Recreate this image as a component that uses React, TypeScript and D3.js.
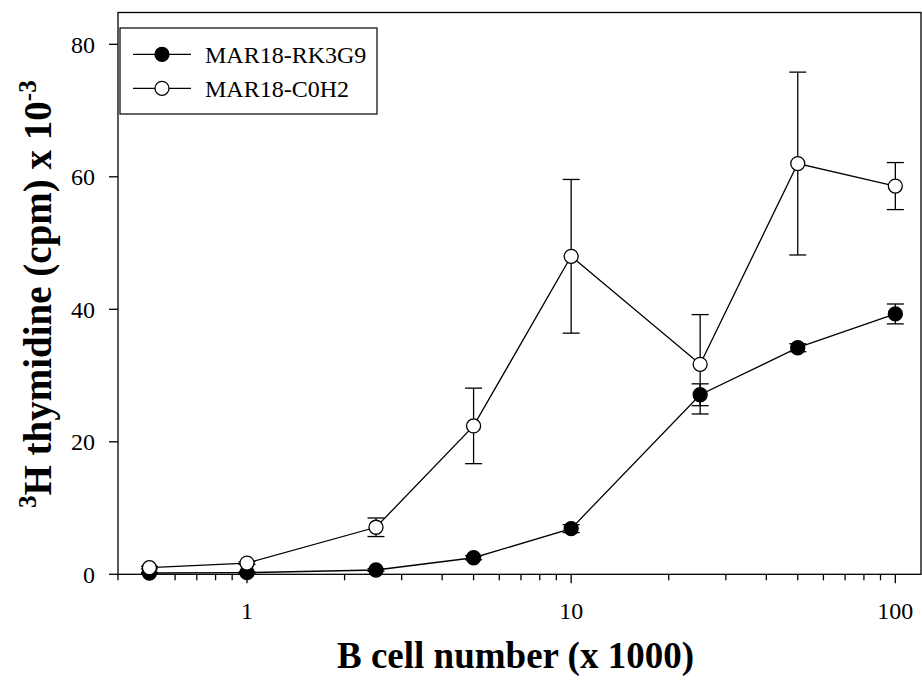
import React from "react";
import * as d3 from "d3";

const cellNumbers = [0.5, 1, 2.5, 5, 10, 25, 50, 100];
const rkMean = [0.2, 0.25, 0.65, 2.5, 6.9, 27.1, 34.2, 39.3];
const rkErr = [0.1, 0.1, 0.2, 0.3, 0.6, 1.65, 0.6, 1.5];
const c0Mean = [1.0, 1.7, 7.1, 22.4, 48.0, 31.7, 62.0, 58.6];
const c0Err = [0.2, 0.2, 1.4, 5.7, 11.6, 7.5, 13.8, 3.55];
const yTickValues = [0, 20, 40, 60, 80];
const xTickLabels = [1, 10, 100];
const seriesNames = ["MAR18-RK3G9", "MAR18-C0H2"];

const W = 922;
const H = 681;
const L = 118, R = 921, T = 12.5, B = 574.3;
const FONT = "'Liberation Serif', 'Times New Roman', serif";

export default function App() {
  const x = d3.scaleLog().domain([0.4, 120]).range([L, R]);
  const y = d3.scaleLinear().domain([0, 84.8]).range([B, T]);
  const line = d3
    .line<number>()
    .x((_, i) => x(cellNumbers[i]))
    .y((d) => y(d));

  const series = [
    { name: seriesNames[0], mean: rkMean, err: rkErr, fill: "#000" },
    { name: seriesNames[1], mean: c0Mean, err: c0Err, fill: "#fff" },
  ];

  const allTicks = x.ticks();
  const isMajor = (t: number) => Math.abs(Math.log10(t) - Math.round(Math.log10(t))) < 1e-9;
  const r = 7;
  const cap = 8.5;
  const sw = 1.3;

  return (
    <svg
      width={W}
      height={H}
      style={{ position: "absolute", left: 0, top: 0, background: "#fff" }}
      fontFamily={FONT}
    >
      <rect x={0} y={0} width={W} height={H} fill="#fff" />
      {/* y ticks */}
      {yTickValues.map((v) => (
        <g key={"y" + v}>
          <line x1={L - 9} x2={L} y1={y(v)} y2={y(v)} stroke="#000" strokeWidth={sw} />
          <text x={L - 23} y={y(v)} dy="0.35em" textAnchor="end" fontSize={24}>
            {v}
          </text>
        </g>
      ))}
      {/* x ticks */}
      {allTicks.map((t) => (
        <line
          key={"xt" + t}
          x1={x(t)}
          x2={x(t)}
          y1={B}
          y2={B + (isMajor(t) ? 9 : 6)}
          stroke="#000"
          strokeWidth={sw}
        />
      ))}
      {xTickLabels.map((t) => (
        <text key={"xl" + t} x={x(t)} y={619} textAnchor="middle" fontSize={24}>
          {t}
        </text>
      ))}
      {/* frame */}
      <rect x={L} y={T} width={R - L} height={B - T} fill="none" stroke="#000" strokeWidth={sw} />

      {/* error bars */}
      {series.map((s) => (
        <g key={"e" + s.name}>
          {s.mean.map((m, i) => {
            const cx = x(cellNumbers[i]);
            const y1 = y(m + s.err[i]);
            const y2 = y(Math.max(0, m - s.err[i]));
            return (
              <g key={i}>
                <line x1={cx} x2={cx} y1={y1} y2={y2} stroke="#000" strokeWidth={sw} />
                <line x1={cx - cap} x2={cx + cap} y1={y1} y2={y1} stroke="#000" strokeWidth={sw} />
                <line x1={cx - cap} x2={cx + cap} y1={y2} y2={y2} stroke="#000" strokeWidth={sw} />
              </g>
            );
          })}
        </g>
      ))}
      {/* lines */}
      {series.map((s) => (
        <path key={"l" + s.name} d={line(s.mean) || ""} fill="none" stroke="#000" strokeWidth={sw} />
      ))}
      {/* markers */}
      {series.map((s) => (
        <g key={"m" + s.name}>
          {s.mean.map((m, i) => (
            <circle key={i} cx={x(cellNumbers[i])} cy={y(m)} r={r} fill={s.fill} stroke="#000" strokeWidth={sw} />
          ))}
        </g>
      ))}

      {/* legend */}
      <rect x={120} y={28} width={257} height={86} fill="#fff" stroke="#000" strokeWidth={1.2} />
      {series.map((s, i) => {
        const ly = 54.3 + i * 34;
        return (
          <g key={"lg" + s.name}>
            <line x1={133} x2={191} y1={ly} y2={ly} stroke="#000" strokeWidth={sw} />
            <circle cx={162} cy={ly} r={r} fill={s.fill} stroke="#000" strokeWidth={sw} />
            <text x={205} y={ly} dy="0.35em" fontSize={24}>
              {s.name}
            </text>
          </g>
        );
      })}

      {/* axis titles */}
      <text x={(L + R) / 2 - 4} y={668} textAnchor="middle" fontSize={37} fontWeight="bold">
        B cell number (x 1000)
      </text>
      <text transform="translate(51,508) rotate(-90)" fontSize={39} fontWeight="bold">
        <tspan fontSize={25} dy={-15}>3</tspan>
        <tspan dy={15}>H thymidine (cpm) x 10</tspan>
        <tspan fontSize={25} dy={-15}>-3</tspan>
      </text>
    </svg>
  );
}
